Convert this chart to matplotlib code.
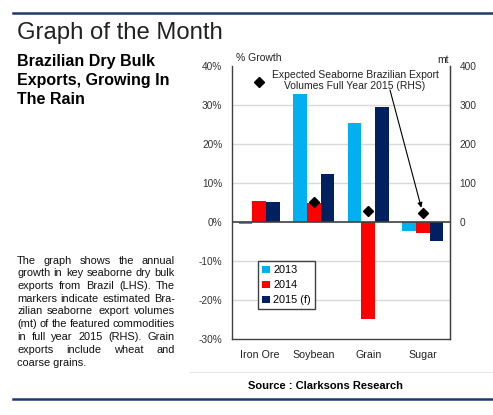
import numpy as np
import matplotlib.pyplot as plt

plt.rcParams['font.family'] = ['Liberation Sans', 'DejaVu Sans']

# data
categories = ['Iron Ore', 'Soybean', 'Grain', 'Sugar']
series_names = ['2013', '2014', '2015 (f)']
growth_2013 = [-0.5, 32.8, 25.4, -2.2]
growth_2014 = [5.4, 4.9, -24.9, -2.9]
growth_2015 = [5.1, 12.3, 29.5, -4.9]
volumes_2015 = [359, 51, 28, 23]   # mt, right axis
left_ticks = [-30, -20, -10, 0, 10, 20, 30, 40]
right_ticks = [0, 100, 200, 300, 400]

title = 'Graph of the Month'
subtitle = ['Brazilian Dry Bulk', 'Exports, Growing In', 'The Rain']
paragraph = [
    'The graph shows the annual',
    'growth in key seaborne dry bulk',
    'exports from Brazil (LHS). The',
    'markers indicate estimated Bra-',
    'zilian seaborne export volumes',
    '(mt) of the featured commodities',
    'in full year 2015 (RHS). Grain',
    'exports include wheat and',
    'coarse grains.',
]

colors = ['#00B0F0', '#FF0000', '#002060']
navy = '#1F3A68'
dark = '#404040'

W, H = 493, 415
fig = plt.figure(figsize=(W / 100, H / 100), dpi=100)


def fx(px):
    return px / W


def fy(py):
    return 1 - py / H


# header / footer decorations
fig.add_artist(plt.Line2D([fx(13), 1], [fy(13), fy(13)], color=navy, lw=1.8))
fig.add_artist(plt.Line2D([fx(13), 1], [fy(399), fy(399)], color=navy, lw=1.8))
fig.add_artist(plt.Line2D([fx(190), 1], [fy(372), fy(372)], color='#E6E6E6', lw=0.8))

fig.text(fx(17), fy(39), title, fontsize=17.2, color='#222222', va='baseline')
for i, line in enumerate(subtitle):
    fig.text(fx(17), fy(66 + i * 19), line, fontsize=11.5, fontweight='bold',
             color='black', va='baseline')
fig.text(fx(325), fy(386), 'Source : Clarksons Research', fontsize=8,
         fontweight='bold', ha='center', va='center')

# justified paragraph
renderer = fig.canvas.get_renderer()
left, right = 17, 175
psize = 7.9
for i, line in enumerate(paragraph):
    y = fy(263.5 + i * 12.75)
    words = line.split()
    if i == len(paragraph) - 1:
        fig.text(fx(left), y, line, fontsize=psize, va='baseline', color='#111111')
        continue
    items = [fig.text(0, y, wd, fontsize=psize, va='baseline', color='#111111') for wd in words]
    widths = [t.get_window_extent(renderer).width for t in items]
    gap = (right - left - sum(widths)) / (len(words) - 1)
    pos = left
    for t, wdt in zip(items, widths):
        t.set_x(fx(pos))
        pos += wdt + gap

# chart
ax = fig.add_axes([fx(232), fy(339), (450 - 232) / W, (339 - 66) / H])
x = np.arange(len(categories))
w = 0.25
for i, (vals, name, c) in enumerate(zip([growth_2013, growth_2014, growth_2015],
                                         series_names, colors)):
    ax.bar(x + (i - 1) * w, vals, w, color=c, label=name, zorder=3)

ax.set_xlim(-0.5, len(categories) - 0.5)
ax.set_ylim(left_ticks[0], left_ticks[-1])
ax.set_yticks(left_ticks)
ax.set_yticklabels([f'{t}%' for t in left_ticks])
for t in left_ticks[1:-1]:
    if t != 0:
        ax.axhline(t, color='#D9D9D9', lw=1, zorder=1)
ax.axhline(0, color=dark, lw=1.2, zorder=4)
ax.set_xticks(x)
ax.set_xticklabels(categories)
ax.tick_params(axis='y', length=0, pad=7, labelsize=7.3, labelcolor='#333333')
ax.tick_params(axis='x', length=0, pad=8, labelsize=7.7, labelcolor='#222222')
ax.spines['top'].set_visible(False)
for s in ['left', 'bottom', 'right']:
    ax.spines[s].set_color(dark)
    ax.spines[s].set_linewidth(1)

ax.legend(loc='upper left', bbox_to_anchor=(fx(258), fy(261)),
          bbox_transform=fig.transFigure, borderaxespad=0, fancybox=False,
          edgecolor=dark, framealpha=1, fontsize=7.8, handlelength=0.7,
          handleheight=0.7, handletextpad=0.3, labelspacing=0.45,
          borderpad=0.4).get_frame().set_linewidth(1)

ax2 = ax.twinx()
ax2.set_ylim(-300, 400)
ax2.set_yticks(right_ticks)
ax2.plot(x, volumes_2015, 'D', color='black', ms=5, zorder=5)
ax2.tick_params(axis='y', length=0, pad=7, labelsize=7.3, labelcolor='#333333')
for s in ['top', 'left', 'bottom']:
    ax2.spines[s].set_visible(False)
ax2.spines['right'].set_color(dark)

fig.text(fx(236), fy(61), '% Growth', fontsize=7.5, va='baseline', color='#222222')
fig.text(fx(449), fy(63), 'mt', fontsize=7.5, ha='right', va='baseline', color='#222222')

fig.text(fx(355), fy(80.5), 'Expected Seaborne Brazilian Export\nVolumes Full Year 2015 (RHS)',
         fontsize=7.5, ha='center', va='center', linespacing=1.05, color='#222222')
ax2.annotate('', xy=(x[3], volumes_2015[3]), xycoords='data',
             xytext=(fx(390), fy(90)), textcoords='figure fraction',
             arrowprops=dict(arrowstyle='-|>', color='black', lw=0.8,
                             mutation_scale=7, shrinkA=0, shrinkB=4))

fig.savefig('out.png', dpi=100)
